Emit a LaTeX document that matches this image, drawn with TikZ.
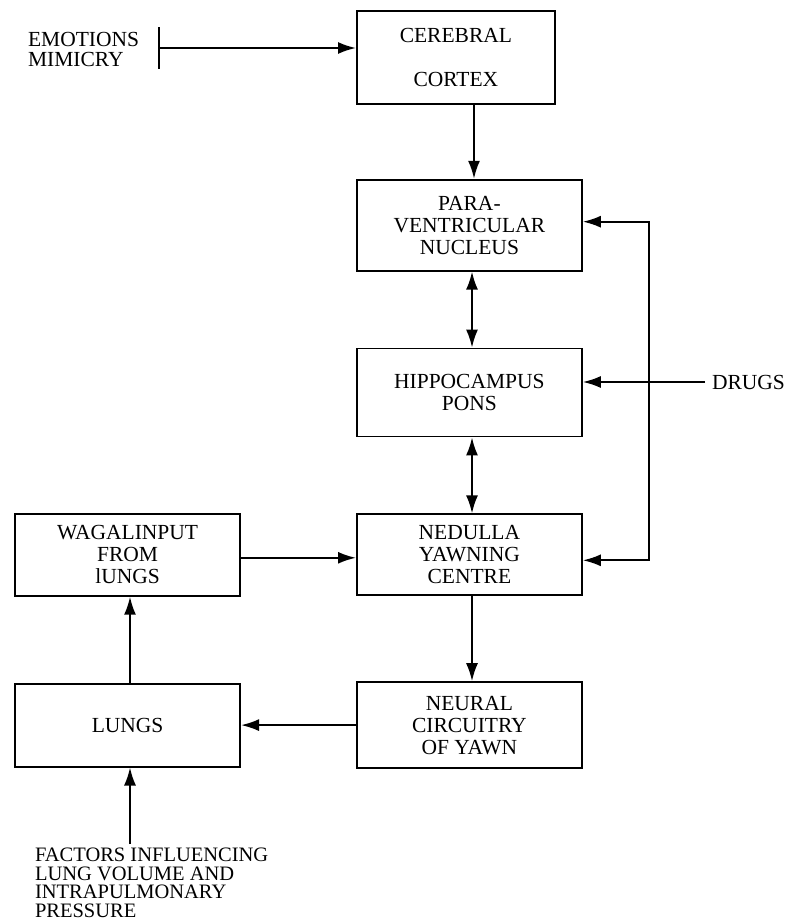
\documentclass[tikz,border=0pt]{standalone}
\usepackage{fontspec}
\setmainfont{Liberation Serif}
\usepackage{tikz}
\usetikzlibrary{arrows.meta, positioning}

\begin{document}
\begin{tikzpicture}[x=1pt, y=-1pt, >={Latex[length=18pt, width=12pt]}, line width=2pt,
        box/.style={rectangle, draw, line width=1.8pt, minimum width=225pt, align=center, inner sep=2pt, font=\fontsize{21.5}{22}\selectfont},
        lbl/.style={align=left, inner sep=0pt, font=\fontsize{21.5}{20}\selectfont}]
        \useasboundingbox (0,0) rectangle (789,923);

        \node (cortex) [box, minimum width=198pt, minimum height=93pt, anchor=north west] at (356,10) {CEREBRAL\\[22pt]CORTEX};
        \node (para) [box, minimum height=91pt, below=74pt of cortex.south west, anchor=north west] {PARA-\\VENTRICULAR\\NUCLEUS};
        \node (hippo) [box, minimum height=88pt, below=76pt of para] {HIPPOCAMPUS\\PONS};
        \node (nedulla) [box, minimum height=81pt, below=76pt of hippo] {NEDULLA\\YAWNING\\CENTRE};
        \node (neural) [box, minimum height=86pt, below=85pt of nedulla] {NEURAL\\CIRCUITRY\\OF YAWN};
        \node (wagal) [box, minimum height=82pt, left=115pt of nedulla] {WAGALINPUT\\FROM\\lUNGS};
        \node (lungs) [box, minimum height=83pt, left=115pt of neural] {LUNGS};

        \node (emo) [lbl, anchor=north west] at (27,31) {EMOTIONS\\MIMICRY};
        \node (drugs) [lbl, anchor=west] at (711,382) {DRUGS};
        \node (factors) [lbl, anchor=north west, font=\fontsize{20.5}{18.5}\selectfont] at (34,847) {FACTORS INFLUENCING\\LUNG VOLUME AND\\INTRAPULMONARY\\PRESSURE};
        \coordinate (emobar) at (158,48);

        \draw[{Bar[width=42pt]}->] (emobar) -- (emobar -| cortex.west);
        \draw[->] (cortex.south -| 474,0) -- (para.north -| 474,0);
        \draw[<->] (para.south -| 472,0) -- (hippo.north -| 472,0);
        \draw[<->] (hippo.south -| 472,0) -- (nedulla.north -| 472,0);
        \draw[->] (nedulla.south -| 472,0) -- (neural.north -| 472,0);
        \draw[<->] ([yshift=3.5pt]para.east) -- ++(66,0) |- ([yshift=-5.5pt]nedulla.east);
        \draw[->] ([xshift=-6pt]drugs.west) -- (drugs.west -| hippo.east);
        \draw[->] ([yshift=-3pt]wagal.east) -- ([yshift=-3pt]nedulla.west);
        \draw[->] (neural.west) -- (neural.west -| lungs.east);
        \draw[->] (lungs.north -| 130,0) -- (wagal.south -| 130,0);
        \draw[->] ([yshift=3pt]factors.north -| 130,0) -- (lungs.south -| 130,0);
    \end{tikzpicture}
\end{document}
